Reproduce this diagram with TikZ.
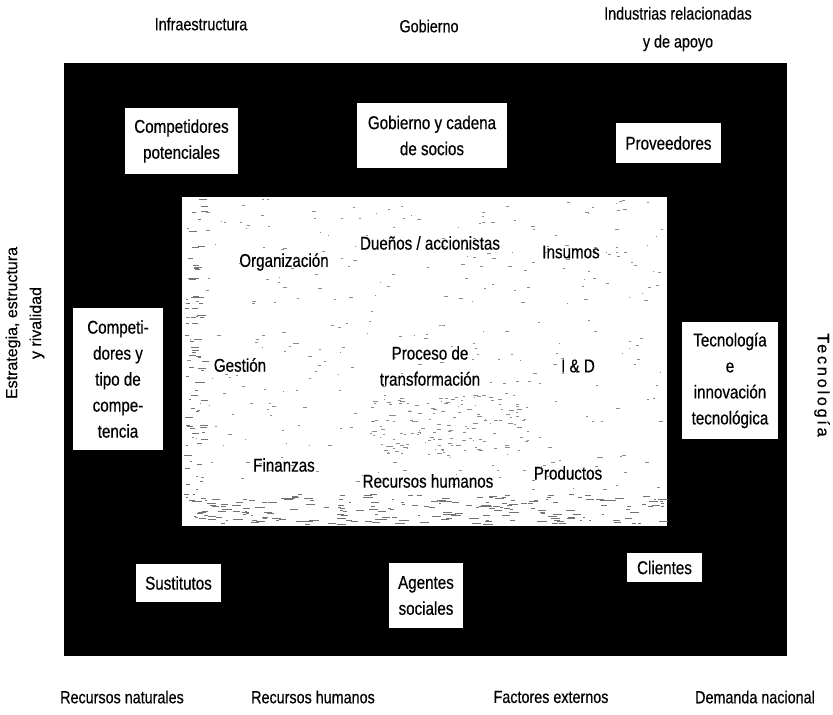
\documentclass[tikz,border=0pt]{standalone}
\usepackage{fontspec}
\setmainfont{Liberation Sans}[FakeStretch=0.82,FakeBold=0.4]
\newfontfamily\sidefont{Liberation Sans}[FakeBold=0.3]
\newfontfamily\spacedfont{Liberation Sans}[LetterSpace=16,FakeBold=0.3]
\begin{document}
\begin{tikzpicture}[x=1pt,y=-1pt,
  lbl/.style={inner sep=0pt,align=center,font=\fontsize{18.5}{26}\selectfont},
  outer/.style={inner sep=0pt,align=center,font=\fontsize{17.5}{28}\selectfont},
  whitebox/.style={fill=white,draw=none,inner sep=0pt,align=center,
    font=\fontsize{18.5}{26}\selectfont},
  speck/.style={fill=black!45}]
\useasboundingbox (0,0) rectangle (833,715);
% outer environment (black frame) and the firm (inner field)
\fill[black] (64,63) rectangle (787,656);
\fill[white] (182,197) rectangle (667,526);
% scanning speckle inside the inner field
\pgfmathsetseed{4242}
\foreach \i in {1,...,330}{
  \pgfmathsetmacro{\px}{184+rnd*478}
  \pgfmathsetmacro{\py}{199+rnd*292}
  \pgfmathsetmacro{\pl}{1+rnd*3}
  \fill[speck] (\px,\py) rectangle ++(\pl,1);
}
\foreach \i in {1,...,140}{
  \pgfmathsetmacro{\px}{370+rnd*160}
  \pgfmathsetmacro{\py}{395+rnd*60}
  \pgfmathsetmacro{\pl}{1+rnd*4}
  \fill[speck] (\px,\py) rectangle ++(\pl,1);
}
\foreach \i in {1,...,220}{
  \pgfmathsetmacro{\px}{184+rnd*478}
  \pgfmathsetmacro{\py}{494+rnd*30}
  \pgfmathsetmacro{\pl}{2+rnd*8}
  \fill[black!55] (\px,\py) rectangle ++(\pl,1);
}
\foreach \i in {1,...,80}{
  \pgfmathsetmacro{\px}{184+rnd*18}
  \pgfmathsetmacro{\py}{199+rnd*320}
  \pgfmathsetmacro{\pl}{2+rnd*6}
  \fill[black!55] (\px,\py) rectangle ++(\pl,1);
}

% inner field labels
\node[lbl] (org)  at (284,262) {Organización};
\node[lbl] (duen) at (430,243) {Dueños / accionistas};
\node[lbl] (ins)  at (571,252) {Insumos};
\node[lbl] (ges)  at (240,365) {Gestión};
\node[lbl] (proc) at (430,366) {Proceso de\\transformación};
\node[lbl] (iyd)  at (578,366) {I \& D};
\node[lbl] (fin)  at (284,465) {Finanzas};
\node[lbl] (rhi)  at (428,481) {Recursos humanos};
\node[lbl] (prod) at (568,473) {Productos};

% white boxes in the black frame
\node[whitebox,minimum width=113,minimum height=66] (cpot) at (181.5,141) {Competidores\\potenciales};
\node[whitebox,minimum width=150,minimum height=65] (gob)  at (432,135.5) {Gobierno y cadena\\de socios};
\node[whitebox,minimum width=105,minimum height=40] (prov) at (668.5,143) {Proveedores};
\node[whitebox,minimum width=90,minimum height=142] (comp) at (118,379) {Competi-\\dores y\\tipo de\\compe-\\tencia};
\node[whitebox,minimum width=96,minimum height=117] (tec)  at (730,380.5) {Tecnología\\e\\innovación\\tecnológica};
\node[whitebox,minimum width=85,minimum height=38] (sust) at (178.5,583) {Sustitutos};
\node[whitebox,minimum width=74,minimum height=65] (ag)   at (426,595.5) {Agentes\\sociales};
\node[whitebox,minimum width=75,minimum height=29] (cli)  at (664.5,567.5) {Clientes};

% outside factors
\node[outer] (infra) at (201,24) {Infraestructura};
\node[outer] (gobt)  at (429,26) {Gobierno};
\node[outer] (indu)  at (678,29) {Industrias relacionadas\\y de apoyo};
\node[outer] (rnat)  at (122,697) {Recursos naturales};
\node[outer] (rhum)  at (313,697) {Recursos humanos};
\node[outer] (fext)  at (551,697) {Factores externos};
\node[outer] (dnac)  at (755,697) {Demanda\hspace{4pt}nacional};
\node[inner sep=0pt,align=center,rotate=90,font=\sidefont\fontsize{16}{24}\selectfont]
  (estr) at (25,323) {Estrategia, estructura\\y rivalidad};
\node[inner sep=0pt,rotate=-90,font=\spacedfont\fontsize{16.5}{24}\selectfont]
  (tecn) at (822,385) {Tecnología};
\end{tikzpicture}
\end{document}
